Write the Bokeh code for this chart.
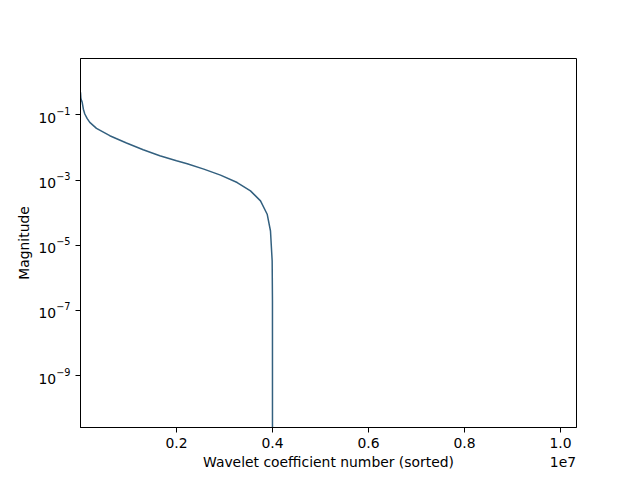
from bokeh.plotting import figure
from bokeh.models import FixedTicker, Range1d, LogTickFormatter, LinearAxis
from bokeh.embed import file_html
from bokeh.resources import INLINE

# Sorted wavelet coefficient magnitudes
coef_index = [1, 8000, 20000, 35400, 60000, 89600, 140000, 193700, 333000, 610000, 958000,
              1306000, 1652000, 2000000, 2223000, 2569000, 2917000, 3264000, 3541000,
              3750000, 3889000, 3958000, 3993000, 3999000, 4000000]
magnitude = [0.5, 0.33, 0.28, 0.244, 0.15, 0.107, 0.077, 0.0591, 0.0387, 0.0231, 0.01374,
             0.00855, 0.0056, 0.00393, 0.0032, 0.00218, 0.001425, 0.000844, 0.000469,
             0.000231, 0.00009, 0.0000275, 0.0000033, 0.0000002, 1e-13]

x_ticks = [2e6, 4e6, 6e6, 8e6, 1e7]
x_labels = ["0.2", "0.4", "0.6", "0.8", "1.0"]
y_ticks = [1e-9, 1e-7, 1e-5, 1e-3, 1e-1]
x_title = "Wavelet coefficient number (sorted)"
x_offset_text = "1e7"

X_START, X_END = 1, 1.0333e7
FONT = "DejaVu Sans"
FS = "13.9px"

p = figure(width=640, height=480, output_backend="svg", toolbar_location=None,
           y_axis_type="log",
           x_range=Range1d(X_START, X_END), y_range=Range1d(2.57e-11, 5.4),
           min_border_left=80, min_border_right=64, min_border_top=58, min_border_bottom=53)

p.line(coef_index, magnitude, line_color="#33607f", line_width=1.5)

p.xgrid.visible = False
p.ygrid.visible = False
p.outline_line_color = "black"
p.outline_line_width = 1
p.background_fill_color = "white"
p.border_fill_color = "white"


def style(ax):
    ax.axis_line_color = "black"
    ax.major_tick_line_color = "black"
    ax.major_tick_out = 5
    ax.major_tick_in = 0
    ax.minor_tick_line_color = None
    ax.major_label_text_font = FONT
    ax.major_label_text_font_size = FS
    ax.major_label_text_color = "black"
    ax.axis_label_text_font = FONT
    ax.axis_label_text_font_size = FS
    ax.axis_label_text_font_style = "normal"
    ax.axis_label_text_color = "black"


style(p.xaxis[0])
style(p.yaxis[0])

p.xaxis.ticker = FixedTicker(ticks=x_ticks, minor_ticks=[])
p.xaxis.major_label_overrides = {t: l for t, l in zip(x_ticks, x_labels)}
p.xaxis.major_label_standoff = 5

# second row under the x axis: axis title (centred) and the offset text "1e7" (right)
title_pos = (X_START + X_END) / 2
offset_pos = 1.005e7
row2 = LinearAxis(ticker=FixedTicker(ticks=[title_pos, offset_pos], minor_ticks=[]))
style(row2)
row2.axis_line_color = None
row2.major_tick_line_color = None
row2.major_tick_out = 0
row2.major_label_standoff = 3
row2.major_label_overrides = {title_pos: x_title, offset_pos: x_offset_text}
p.add_layout(row2, "below")

p.yaxis.ticker = FixedTicker(ticks=y_ticks, minor_ticks=[])
p.yaxis.formatter = LogTickFormatter()
p.yaxis.axis_label = "Magnitude"
p.yaxis.axis_label_standoff = 3

open("out.html", "w").write(file_html(p, INLINE))
